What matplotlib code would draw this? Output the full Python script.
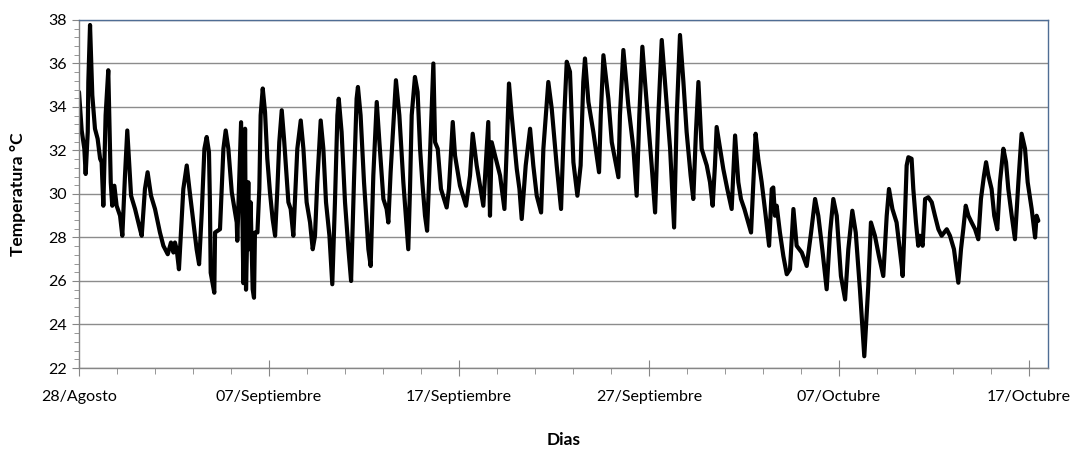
import matplotlib
matplotlib.use("Agg")
import matplotlib.pyplot as plt
from matplotlib.ticker import MultipleLocator

# Day offset from 28/Agosto and temperature readings (°C)
days = [
    0.00, 0.14, 0.28, 0.35, 0.46, 0.49, 0.58, 0.70, 0.84, 0.98, 1.11, 1.19, 1.28, 1.40,
    1.54, 1.67, 1.75, 1.86, 1.98, 2.16, 2.28, 2.42, 2.54, 2.74, 2.95, 3.21, 3.30, 3.47,
    3.61, 3.79, 4.00, 4.26, 4.44, 4.67, 4.84, 4.97, 5.05, 5.14, 5.26, 5.49, 5.67, 5.81,
    6.02, 6.19, 6.32, 6.46, 6.60, 6.72, 6.84, 6.89, 6.93, 7.12, 7.16, 7.42, 7.51, 7.60,
    7.72, 7.86, 8.04, 8.30, 8.33,
    8.53, 8.65, 8.74, 8.79, 8.91, 8.96, 9.03, 9.14, 9.21, 9.26, 9.39, 9.49, 9.56, 9.67,
    9.79, 9.91, 10.05, 10.19, 10.32, 10.44, 10.54, 10.67, 10.79, 11.02, 11.14, 11.28,
    11.37, 11.49, 11.67, 11.81, 11.98, 12.16, 12.30, 12.42, 12.54, 12.72, 12.86, 13.00,
    13.18, 13.33, 13.47, 13.60, 13.67, 13.82, 14.00, 14.18, 14.32, 14.47, 14.61, 14.68,
    14.82, 15.00, 15.23, 15.35, 15.49, 15.67, 15.81, 16.02, 16.19, 16.28, 16.40, 16.68,
    16.86, 17.07, 17.33,
    17.42, 17.51, 17.68, 17.82, 17.95, 18.07, 18.21, 18.32, 18.42, 18.65, 18.74, 18.88,
    19.05, 19.35, 19.47, 19.67, 19.79, 20.05, 20.37, 20.58, 20.72, 20.93, 21.28, 21.54,
    21.63, 21.72, 22.16, 22.39, 22.51, 22.63, 22.77, 23.04, 23.18, 23.30, 23.51, 23.74,
    23.91, 24.09, 24.32, 24.44, 24.70, 24.88, 25.14, 25.37, 25.54, 25.67,
    25.84, 26.02, 26.23, 26.40, 26.54, 26.63, 26.81, 27.07, 27.37, 27.46, 27.60, 27.86,
    28.04, 28.39, 28.47, 28.65, 28.91, 29.18, 29.35, 29.49, 29.65, 29.79, 29.97, 30.14,
    30.32, 30.49, 30.67, 30.84, 31.11, 31.32, 31.46, 31.63, 31.81, 31.98, 32.19, 32.33,
    32.47, 32.60, 32.77, 33.04, 33.21, 33.35, 33.47, 33.56, 33.74, 33.91, 34.12, 34.35,
    34.53,
    34.70, 34.84, 35.02, 35.37, 35.49, 35.61, 35.75, 35.93, 36.14, 36.32, 36.46, 36.54,
    36.63, 36.72, 36.89, 37.07, 37.25, 37.42, 37.60, 37.77, 38.04, 38.30, 38.53, 38.74,
    38.91, 39.12, 39.35, 39.53, 39.70, 39.88, 40.10, 40.32, 40.49, 40.70, 40.88, 41.10,
    41.24, 41.33, 41.42, 41.54, 41.68, 41.89, 42.10, 42.33, 42.51, 42.63, 42.81, 43.03,
    43.30, 43.35,
    43.47, 43.56, 43.65, 43.82, 43.91, 44.05, 44.17, 44.26, 44.40, 44.53, 44.70, 44.88,
    45.05, 45.23, 45.40, 45.67, 45.84, 46.05, 46.28, 46.42, 46.54, 46.67, 46.81, 46.98,
    47.16, 47.33, 47.47, 47.63, 47.74, 47.86, 48.03, 48.17, 48.33, 48.47, 48.65, 48.79,
    48.91, 49.09, 49.26, 49.44, 49.61, 49.79, 49.93, 50.14, 50.32, 50.40, 50.49,
]
temps = [
    34.69, 32.92, 32.08, 30.92, 32.85, 35.15, 37.77, 34.54, 33.00, 32.54, 31.62, 31.46, 29.46, 33.62,
    35.69, 30.54, 29.46, 30.38, 29.46, 29.00, 28.08, 30.85, 32.92, 29.92, 29.31, 28.38, 28.08, 30.23,
    31.00, 29.92, 29.31, 28.23, 27.62, 27.23, 27.77, 27.31, 27.77, 27.46, 26.54, 30.23, 31.31, 30.23,
    28.69, 27.46, 26.77, 29.15, 32.08, 32.62, 31.92, 29.62, 26.38, 25.46, 28.23, 28.38, 30.23, 32.08,
    32.92, 32.08, 30.08, 28.69, 27.85,
    33.30, 25.90, 33.00, 25.60, 30.54, 27.46, 29.62, 25.62, 25.23, 28.23, 28.23, 30.23, 33.62, 34.85,
    33.77, 31.62, 30.08, 28.85, 28.08, 30.23, 32.38, 33.85, 32.54, 29.62, 29.31, 28.08,
    29.77, 32.08, 33.38, 32.08, 29.62, 28.69, 27.46, 28.08, 30.54, 33.38, 32.08, 29.62,
    28.08, 25.85, 29.62, 33.62, 34.38, 32.85, 29.62, 27.46, 26.00, 30.54, 34.38, 34.92,
    33.62, 30.54, 27.46, 26.69, 30.85, 34.23, 32.38, 29.77, 29.31, 28.69, 31.00, 35.23,
    33.62, 30.54, 27.46,
    30.23, 33.62, 35.38, 34.69, 32.08, 30.54, 29.00, 28.31, 30.54, 36.00, 32.38, 32.08,
    30.23, 29.38, 30.23, 33.31, 31.77, 30.38, 29.46, 30.85, 32.77, 31.31, 29.46, 33.31,
    29.00, 32.38, 30.85, 29.31, 32.08, 35.08, 33.62, 31.15, 30.23, 28.85, 31.31, 33.00,
    31.31, 29.92, 29.15, 32.08, 35.15, 33.92, 31.31, 29.31, 33.62, 36.08,
    35.62, 31.46, 29.92, 31.31, 35.15, 36.23, 34.23, 32.85, 31.00, 33.62, 36.38, 34.38,
    32.38, 30.77, 33.62, 36.62, 34.08, 32.08, 29.92, 33.62, 36.77, 35.15, 33.15, 31.31,
    29.15, 33.62, 37.08, 35.15, 32.08, 28.46, 33.62, 37.31, 35.15, 32.85, 30.85, 29.77,
    32.85, 35.15, 32.08, 31.31, 30.54, 29.46, 31.31, 33.08, 32.08, 31.15, 30.23, 29.31,
    32.69,
    30.54, 29.77, 29.31, 28.23, 30.54, 32.77, 31.62, 30.54, 29.00, 27.62, 30.23, 30.30,
    29.00, 29.46, 28.23, 27.15, 26.31, 26.54, 29.31, 27.62, 27.31, 26.69, 28.23, 29.77,
    29.00, 27.46, 25.62, 28.23, 29.77, 29.00, 26.23, 25.15, 27.46, 29.23, 28.23, 25.62,
    23.77, 22.54, 23.92, 25.77, 28.69, 28.08, 27.15, 26.23, 29.00, 30.23, 29.31, 28.69,
    26.69, 26.23,
    29.00, 31.31, 31.69, 31.62, 30.23, 28.69, 27.62, 28.08, 27.62, 29.77, 29.85, 29.62,
    29.00, 28.38, 28.08, 28.38, 28.08, 27.46, 25.92, 27.46, 28.38, 29.46, 29.00, 28.69,
    28.38, 27.92, 29.77, 30.85, 31.46, 30.85, 30.23, 29.00, 28.38, 30.54, 32.08, 31.46,
    30.23, 29.00, 27.92, 30.54, 32.77, 32.08, 30.54, 29.31, 28.00, 29.00, 28.77,
]

tick_days = [0, 10, 20, 30, 40, 50]
tick_labels = ["28/Agosto", "07/Septiembre", "17/Septiembre",
               "27/Septiembre", "07/Octubre", "17/Octubre"]

plt.rcParams["font.family"] = ["Lato", "DejaVu Sans"]

fig = plt.figure(figsize=(10.75, 4.49), dpi=100)
ax = fig.add_axes([0.0735, 0.1804, 0.9014, 0.7751])

ax.plot(days, temps, color="black", linewidth=3.0,
        solid_joinstyle="round", solid_capstyle="round")

ax.set_xlim(0, 51)
ax.set_ylim(22, 38)
ax.set_yticks(range(22, 39, 2))
ax.yaxis.set_minor_locator(MultipleLocator(0.4))
ax.set_xticks(tick_days)
ax.set_xticklabels(tick_labels)
ax.xaxis.set_minor_locator(MultipleLocator(2))

ax.grid(axis="y", which="major", color="#8c8c8c", linewidth=1.0)
ax.set_axisbelow(True)

for side in ["left", "bottom"]:
    ax.spines[side].set_color("#868686")
    ax.spines[side].set_linewidth(1.0)
for side in ["top", "right"]:
    ax.spines[side].set_color("#4f6d94")
    ax.spines[side].set_linewidth(1.0)

ax.tick_params(axis="y", which="major", length=5, color="#868686", labelsize=11.5, pad=4)
ax.tick_params(axis="y", which="minor", length=3.5, color="#868686")
ax.tick_params(axis="x", which="major", direction="inout", length=12, color="#868686",
               labelsize=11.5, pad=10)
ax.tick_params(axis="x", which="minor", length=4, color="#868686")

ax.set_ylabel("Temperatura °C", fontsize=12.5, fontweight="bold", va="center")
ax.yaxis.set_label_coords(-0.063, 0.5)
ax.set_xlabel("Dias", fontsize=12.5, fontweight="bold", va="center")
ax.xaxis.set_label_coords(0.5, -0.207)

fig.savefig("out.png", dpi=100)
